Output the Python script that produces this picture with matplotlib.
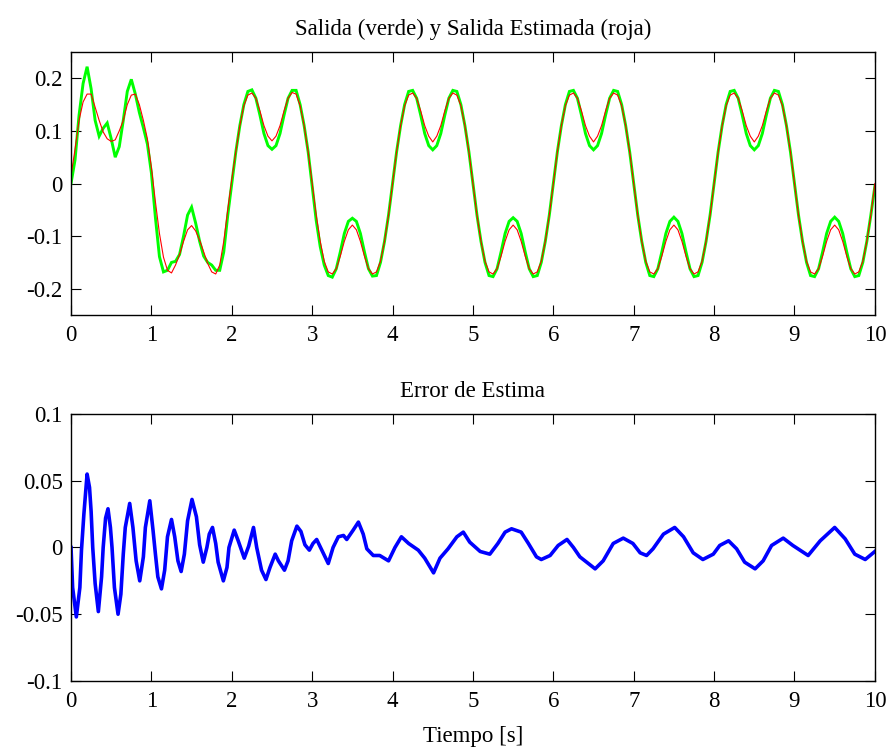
import numpy as np
import matplotlib
matplotlib.use('Agg')
import matplotlib.pyplot as plt

# time grid for the output signals (0.05 s)
t = np.linspace(0, 10, 201)

salida = [
    0.0, 0.045, 0.13, 0.19, 0.222, 0.18, 0.12, 0.09, 0.105, 0.115,
    0.085, 0.05, 0.07, 0.12, 0.175, 0.198, 0.17, 0.135, 0.106, 0.075,
    0.02, -0.065, -0.139, -0.168, -0.165, -0.15, -0.148, -0.135, -0.10, -0.06,
    -0.045, -0.075, -0.11, -0.138, -0.15, -0.155, -0.165, -0.165, -0.13, -0.06,
    # 2 - 4 s
    0.0, 0.06, 0.11, 0.15, 0.175, 0.178, 0.162, 0.13, 0.095, 0.072,
    0.065, 0.072, 0.095, 0.13, 0.162, 0.177, 0.177, 0.15, 0.11, 0.06,
    -0.005, -0.07, -0.12, -0.155, -0.175, -0.178, -0.162, -0.13, -0.095, -0.072,
    -0.066, -0.072, -0.095, -0.13, -0.162, -0.176, -0.175, -0.15, -0.11, -0.06,
    # 4 - 6 s
    0.0, 0.06, 0.11, 0.15, 0.175, 0.177, 0.162, 0.13, 0.095, 0.072,
    0.064, 0.072, 0.095, 0.13, 0.162, 0.177, 0.175, 0.15, 0.11, 0.06,
    0.0, -0.06, -0.11, -0.15, -0.175, -0.177, -0.162, -0.13, -0.095, -0.072,
    -0.065, -0.072, -0.095, -0.13, -0.162, -0.177, -0.175, -0.15, -0.11, -0.06,
    # 6 - 8 s
    0.0, 0.06, 0.11, 0.15, 0.175, 0.177, 0.162, 0.13, 0.095, 0.072,
    0.064, 0.072, 0.095, 0.13, 0.162, 0.177, 0.175, 0.15, 0.11, 0.06,
    0.0, -0.06, -0.11, -0.15, -0.175, -0.177, -0.162, -0.13, -0.095, -0.072,
    -0.064, -0.072, -0.095, -0.13, -0.162, -0.177, -0.175, -0.15, -0.11, -0.06,
    # 8 - 10 s
    0.0, 0.06, 0.11, 0.15, 0.175, 0.177, 0.162, 0.13, 0.095, 0.072,
    0.064, 0.072, 0.095, 0.13, 0.162, 0.177, 0.175, 0.15, 0.11, 0.06,
    0.0, -0.06, -0.11, -0.15, -0.175, -0.177, -0.162, -0.13, -0.095, -0.072,
    -0.064, -0.072, -0.095, -0.13, -0.162, -0.177, -0.175, -0.15, -0.11, -0.06,
    -0.005,
]

# estimated output (red)
estimada = [
    0.015, 0.065, 0.12, 0.155, 0.17, 0.17, 0.145, 0.12, 0.098, 0.085,
    0.08, 0.083, 0.10, 0.12, 0.15, 0.168, 0.17, 0.15, 0.12, 0.085,
    0.03, -0.035, -0.095, -0.14, -0.165, -0.17, -0.155, -0.135, -0.11, -0.088,
    -0.08, -0.09, -0.108, -0.13, -0.152, -0.168, -0.172, -0.155, -0.11, -0.05,
    # 2 - 4 s
    0.008, 0.06, 0.11, 0.148, 0.168, 0.172, 0.162, 0.138, 0.11, 0.09,
    0.081, 0.09, 0.11, 0.138, 0.162, 0.173, 0.17, 0.148, 0.11, 0.06,
    0.0, -0.06, -0.11, -0.148, -0.168, -0.172, -0.162, -0.138, -0.11, -0.088,
    -0.079, -0.088, -0.11, -0.138, -0.162, -0.172, -0.168, -0.148, -0.11, -0.06,
    # 4 - 6 s
    0.0, 0.06, 0.11, 0.148, 0.168, 0.172, 0.162, 0.138, 0.11, 0.09,
    0.079, 0.09, 0.11, 0.138, 0.162, 0.172, 0.168, 0.148, 0.11, 0.06,
    0.0, -0.06, -0.11, -0.148, -0.168, -0.172, -0.162, -0.138, -0.11, -0.088,
    -0.079, -0.088, -0.11, -0.138, -0.162, -0.172, -0.168, -0.148, -0.11, -0.06,
    # 6 - 8 s
    0.0, 0.06, 0.11, 0.148, 0.168, 0.172, 0.162, 0.138, 0.11, 0.09,
    0.079, 0.09, 0.11, 0.138, 0.162, 0.172, 0.168, 0.148, 0.11, 0.06,
    0.0, -0.06, -0.11, -0.148, -0.168, -0.172, -0.162, -0.138, -0.11, -0.088,
    -0.079, -0.088, -0.11, -0.138, -0.162, -0.172, -0.168, -0.148, -0.11, -0.06,
    # 8 - 10 s
    0.0, 0.06, 0.11, 0.148, 0.168, 0.172, 0.162, 0.138, 0.11, 0.09,
    0.079, 0.09, 0.11, 0.138, 0.162, 0.172, 0.168, 0.148, 0.11, 0.06,
    0.0, -0.06, -0.11, -0.148, -0.168, -0.172, -0.162, -0.138, -0.11, -0.088,
    -0.079, -0.088, -0.11, -0.138, -0.162, -0.172, -0.168, -0.148, -0.11, -0.06,
    0.0,
]

# estimation error (blue), read at its turning points
t_err = [0.0, 0.02, 0.066, 0.11, 0.13, 0.16, 0.2, 0.23, 0.25, 0.27,
         0.30, 0.34, 0.38, 0.40, 0.43, 0.46, 0.49, 0.51, 0.54, 0.585,
         0.62, 0.65, 0.675, 0.73, 0.77, 0.81, 0.855, 0.9, 0.925, 0.98,
         1.02, 1.05, 1.08, 1.125, 1.165, 1.2, 1.25, 1.29, 1.33, 1.37,
         1.41, 1.45, 1.505, 1.56, 1.6, 1.645, 1.69, 1.72, 1.76, 1.8,
         1.83, 1.895, 1.94, 1.965, 2.03, 2.08, 2.155, 2.21, 2.27, 2.31,
         2.37, 2.425, 2.475, 2.54, 2.58, 2.655, 2.7, 2.745, 2.81, 2.86,
         2.91, 2.965, 3.01, 3.056, 3.12, 3.2, 3.26, 3.325, 3.39, 3.43,
         3.51, 3.575, 3.635, 3.68, 3.76, 3.84, 3.95, 4.03, 4.11, 4.2,
         4.32, 4.4, 4.51, 4.59, 4.69, 4.8, 4.88, 4.96, 5.09, 5.21,
         5.31, 5.40, 5.48, 5.6, 5.69, 5.79, 5.85, 5.96, 6.06, 6.17,
         6.25, 6.33, 6.52, 6.62, 6.745, 6.87, 6.99, 7.08, 7.16, 7.24,
         7.37, 7.51, 7.62, 7.74, 7.86, 7.99, 8.07, 8.18, 8.28, 8.38,
         8.51, 8.61, 8.715, 8.86, 8.98, 9.17, 9.32, 9.5, 9.63, 9.75,
         9.88, 10.0]
error = [0.0, -0.03, -0.052, -0.03, -0.002, 0.025, 0.055, 0.045, 0.027, 0.0,
         -0.027, -0.048, -0.022, 0.0, 0.022, 0.029, 0.015, 0.0, -0.03, -0.05,
         -0.035, -0.005, 0.015, 0.033, 0.015, -0.01, -0.025, -0.007, 0.015, 0.035,
         0.013, -0.005, -0.022, -0.031, -0.017, 0.008, 0.021, 0.008, -0.01, -0.018,
         -0.005, 0.02, 0.036, 0.023, 0.002, -0.011, 0.0, 0.01, 0.015, 0.003,
         -0.011, -0.025, -0.015, 0.0, 0.013, 0.005, -0.008, 0.001, 0.015, 0.0,
         -0.017, -0.024, -0.015, -0.005, -0.01, -0.017, -0.01, 0.005, 0.016, 0.012,
         0.002, -0.002, 0.003, 0.006, -0.002, -0.012, 0.0, 0.008, 0.009, 0.006,
         0.013, 0.019, 0.01, -0.001, -0.006, -0.006, -0.01, 0.0, 0.008, 0.003,
         -0.002, -0.008, -0.019, -0.008, -0.001, 0.008, 0.0115, 0.004, -0.003, -0.005,
         0.003, 0.0115, 0.014, 0.0115, 0.003, -0.007, -0.009, -0.006, 0.0015, 0.006,
         0.0, -0.007, -0.016, -0.01, 0.003, 0.007, 0.003, -0.004, -0.006, -0.001,
         0.01, 0.015, 0.008, -0.004, -0.009, -0.005, 0.0015, 0.005, -0.001, -0.011,
         -0.016, -0.01, 0.0015, 0.007, 0.0015, -0.006, 0.005, 0.015, 0.0065, -0.005,
         -0.009, -0.003]

top_ticks = [-0.2, -0.1, 0, 0.1, 0.2]
top_labels = ['-0.2', '-0.1', '0', '0.1', '0.2']
bot_ticks = [-0.1, -0.05, 0, 0.05, 0.1]
bot_labels = ['-0.1', '-0.05', '0', '0.05', '0.1']
x_ticks = list(range(0, 11))

plt.rcParams['font.family'] = ['Liberation Serif', 'DejaVu Serif']
plt.rcParams['font.size'] = 16.5

fig = plt.figure(figsize=(8.9, 7.49), dpi=100)
ax1 = fig.add_axes([0.0798, 0.5794, 0.9032, 0.3512])
ax2 = fig.add_axes([0.0798, 0.0908, 0.9032, 0.3565])

ax1.plot(t, salida, color=(0, 1, 0), lw=2.1, solid_joinstyle='miter')
ax1.plot(t, estimada, color=(1, 0, 0), lw=0.8)
ax1.set_xlim(0, 10)
ax1.set_ylim(-0.25, 0.25)
ax1.set_yticks(top_ticks)
ax1.set_yticklabels(top_labels)
ax1.set_title('Salida (verde) y Salida Estimada (roja)', fontsize=16.5, pad=12)

ax2.plot(t_err, error, color=(0, 0, 1), lw=2.6)
ax2.set_xlim(0, 10)
ax2.set_ylim(-0.1, 0.1)
ax2.set_yticks(bot_ticks)
ax2.set_yticklabels(bot_labels)
ax2.set_title('Error de Estima', fontsize=16.5, pad=12)
ax2.set_xlabel('Tiempo [s]', fontsize=16.5, labelpad=10)

for ax in (ax1, ax2):
    ax.set_xticks(x_ticks)
    ax.tick_params(direction='in', top=True, right=True, length=7,
                   width=0.8, labelsize=16.5)
    ax.tick_params(axis='x', pad=7)
    ax.tick_params(axis='y', pad=6)
    for sp in ax.spines.values():
        sp.set_linewidth(1.0)

fig.savefig('out.png', dpi=100)
